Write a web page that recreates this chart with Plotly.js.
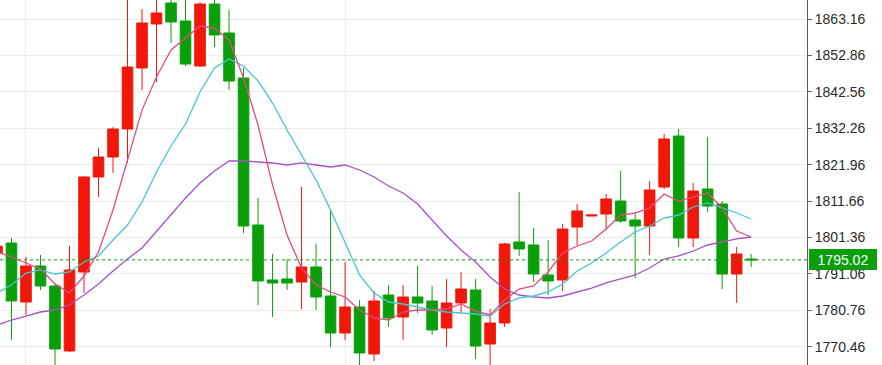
<!DOCTYPE html>
<html>
<head>
<meta charset="utf-8">
<script src="https://cdn.plot.ly/plotly-3.0.1.min.js"></script>
<style>html,body{margin:0;padding:0;background:#fff;}#chart{width:882px;height:365px;}</style>
</head>
<body>
<div id="chart"></div>
<script>
// candle index (category positions)
var idx = [1,2,3,4,5,6,7,8,9,10,11,12,13,14,15,16,17,18,19,20,21,22,23,24,25,26,27,28,29,30,31,32,33,34,35,36,37,38,39,40,41,42,43,44,45,46,47,48,49,50,51,52,53];

var openP = [1797.0,1799.79,1783.10,1793.29,1787.63,1769.24,1791.59,1818.47,1824.12,1832.04,
  1849.30,1861.75,1867.69,1862.59,1849.86,1867.40,1859.20,1846.47,1804.89,1789.33,
  1789.61,1788.76,1793.00,1784.80,1774.34,1781.69,1768.39,1785.08,1778.86,1784.52,
  1783.39,1775.75,1782.82,1786.50,1771.22,1777.16,1800.08,1799.23,1790.74,1789.33,
  1804.32,1807.43,1808.00,1811.67,1806.30,1804.60,1815.63,1830.06,1801.21,1815.07,
  1810.83,1791.02,1795.27];
var highP = [1799.5,1801.21,1795.83,1796.40,1788.48,1798.95,1818.75,1826.67,1832.61,1870.0,
  1865.99,1870.5,1870.0,1871.0,1867.97,1869.5,1865.71,1849.30,1812.52,1796.68,
  1795.27,1815.63,1799.51,1809.13,1794.42,1783.67,1786.22,1787.91,1787.91,1793.29,
  1787.63,1789.61,1791.59,1789.61,1781.12,1799.79,1814.22,1804.04,1800.64,1805.17,
  1810.83,1807.71,1813.66,1820.16,1808.00,1817.33,1830.63,1832.04,1816.77,1829.78,
  1811.67,1798.66,1796.68];
var lowP = [1796.4,1772.36,1779.43,1786.50,1764.70,1769.00,1785.65,1812.81,1819.60,1822.43,
  1843.08,1845.34,1856.37,1849.86,1849.58,1855.24,1843.08,1802.62,1782.25,1778.86,
  1786.50,1781.12,1780.84,1770.38,1772.36,1765.00,1766.42,1776.03,1772.36,1779.99,
  1773.77,1770.38,1779.99,1766.98,1765.00,1776.03,1796.12,1788.76,1785.08,1786.22,
  1799.23,1807.43,1803.47,1805.45,1789.89,1796.40,1815.07,1798.66,1798.66,1808.56,
  1786.78,1782.82,1793.00];
var closeP = [1798.9,1783.39,1793.29,1787.63,1769.81,1792.16,1818.47,1824.12,1832.04,1849.58,
  1862.03,1864.86,1862.31,1850.43,1867.40,1858.64,1845.62,1804.60,1789.05,1788.48,
  1788.48,1793.00,1784.52,1774.34,1781.69,1768.68,1783.39,1778.58,1784.52,1782.82,
  1775.19,1782.82,1786.78,1770.66,1777.16,1799.51,1798.10,1791.02,1789.05,1803.75,
  1808.85,1807.71,1812.24,1806.02,1804.60,1814.79,1829.21,1801.21,1814.50,1810.26,
  1791.02,1796.68,1795.02];

var ma5 = [1797.25,1795.83,1794.14,1792.44,1788.20,1785.65,1790.45,1797.25,1809.13,1823.27,
  1837.39,1846.75,1854.39,1857.79,1861.18,1860.61,1857.22,1846.47,1833.17,1816.20,
  1802.06,1792.72,1787.91,1785.93,1784.52,1780.84,1778.58,1778.01,1780.27,1780.84,
  1780.84,1781.12,1782.54,1780.55,1779.43,1783.67,1786.78,1787.63,1791.59,1796.96,
  1798.94,1800.36,1803.75,1807.71,1808.28,1809.70,1813.66,1811.67,1812.81,1813.94,
  1809.70,1803.19,1801.49];
var ma10 = [1785.65,1787.91,1791.31,1792.16,1791.02,1791.59,1794.42,1796.12,1800.64,1804.89,
  1811.39,1819.88,1827.23,1833.45,1842.51,1849.30,1851.84,1849.86,1845.62,1839.39,
  1831.76,1824.68,1817.61,1809.13,1799.79,1790.74,1785.65,1783.10,1782.54,1781.69,
  1780.84,1780.27,1779.99,1779.71,1779.14,1782.54,1784.24,1784.80,1785.93,1788.19,
  1791.87,1794.14,1796.96,1800.08,1802.90,1804.60,1806.86,1807.71,1809.98,1811.11,
  1809.70,1808.28,1806.58];
var ma20 = [1776.59,1778.01,1779.14,1780.27,1780.84,1782.25,1785.08,1788.19,1791.87,1795.27,
  1798.38,1803.19,1808.00,1812.52,1816.77,1820.16,1822.99,1822.99,1822.71,1822.43,
  1821.86,1822.43,1821.86,1821.29,1821.86,1820.44,1818.47,1815.92,1813.94,1810.83,
  1806.30,1801.77,1797.81,1794.42,1790.17,1786.78,1785.08,1784.52,1784.24,1784.80,
  1785.93,1787.06,1788.48,1789.61,1790.74,1792.72,1795.27,1796.12,1797.53,1799.23,
  1800.08,1800.93,1801.49];

var yTicks = [1770.46,1780.76,1791.06,1801.36,1811.66,1821.96,1832.26,1842.56,1852.86,1863.16];
var yTickText = ['1770.46','1780.76','1791.06','1801.36','1811.66','1821.96','1832.26','1842.56','1852.86','1863.16'];
var lastPrice = 1795.02;
var lastPriceText = '1795.02';
var xGridAt = [3, 25];

var RED = '#f2170b', GREEN = '#0a9f0a';

var traces = [
  {type:'candlestick', x: idx, open: openP, high: highP, low: lowP, close: closeP,
   increasing:{line:{color:RED, width:1}, fillcolor:RED},
   decreasing:{line:{color:GREEN, width:1}, fillcolor:GREEN},
   whiskerwidth:0, hoverinfo:'skip', showlegend:false},
  {type:'scatter', mode:'lines', x: idx, y: ma20, line:{color:'#a552c6', width:1.3}, hoverinfo:'skip', showlegend:false},
  {type:'scatter', mode:'lines', x: idx, y: ma10, line:{color:'#45c6d0', width:1.3}, hoverinfo:'skip', showlegend:false},
  {type:'scatter', mode:'lines', x: idx, y: ma5, line:{color:'#e24c80', width:1.3}, hoverinfo:'skip', showlegend:false}
];

var layout = {
  width: 882, height: 365,
  margin: {l:0, r:75, t:0, b:0, pad:0},
  paper_bgcolor:'#ffffff', plot_bgcolor:'#ffffff',
  boxgap: 0.27, boxgroupgap: 0,
  showlegend:false,
  xaxis: {range:[1.208, 56.85], rangeslider:{visible:false}, showticklabels:false,
          tickmode:'array', tickvals: xGridAt, ticks:'', showgrid:true, gridcolor:'#e9edf2',
          zeroline:false, showline:false, fixedrange:true},
  yaxis: {side:'right', range:[1765.28, 1868.535], tickmode:'array', tickvals:yTicks, ticktext:yTickText,
          showgrid:true, gridcolor:'#ebebeb', gridwidth:1, zeroline:false,
          showline:true, linecolor:'#5a5a5a', linewidth:1, mirror:false,
          ticks:'outside', ticklen:4, tickcolor:'#6a6a6a', tickwidth:1,
          tickfont:{family:'Liberation Sans, Arial, sans-serif', size:14, color:'#2a2a2a'},
          fixedrange:true},
  shapes: [
    {type:'line', xref:'paper', x0:0, x1:1, yref:'y', y0:lastPrice, y1:lastPrice,
     line:{color:GREEN, width:1, dash:'dot'}, layer:'above'}
  ],
  annotations: [
    {xref:'paper', x:1, xanchor:'left', xshift:2, yref:'y', y:lastPrice, yanchor:'middle',
     text:lastPriceText, showarrow:false, bgcolor:GREEN, borderpad:2, borderwidth:0,
     width:64, height:17, align:'center',
     font:{family:'Liberation Sans, Arial, sans-serif', size:14, color:'#ffffff'}}
  ]
};

Plotly.newPlot('chart', traces, layout, {staticPlot:true, displayModeBar:false});
</script>
</body>
</html>
